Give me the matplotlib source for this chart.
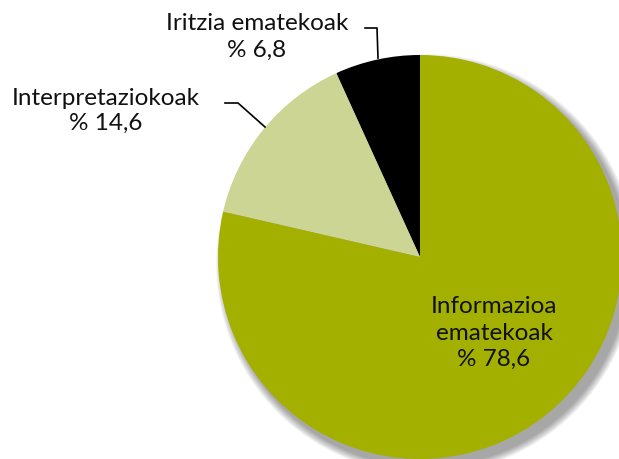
import matplotlib
matplotlib.use("Agg")
import matplotlib.pyplot as plt
from matplotlib.patches import Circle

categories = ["Iritzia ematekoak", "Interpretaziokoak", "Informazioa\nematekoak"]
values = [6.8, 14.6, 78.6]
pct_labels = ["% 6,8", "% 14,6", "% 78,6"]
colors = ["#000000", "#cdd594", "#a3b000"]

plt.rcParams['font.family'] = ['Lato', 'DejaVu Sans']

W, H = 619, 459
fig = plt.figure(figsize=(W/100, H/100), dpi=100)
cx, cy, r = 420, 257, 202
ax = fig.add_axes([(cx - r)/W, (H - cy - r)/H, 2*r/W, 2*r/H])

# soft drop shadow
for i in range(10):
    ax.add_patch(Circle((0.03, -0.035), 1.0 + 0.004*(10 - i), color='black',
                        alpha=0.04, lw=0, zorder=0, clip_on=False))

wedges, _ = ax.pie(values, colors=colors, startangle=90, counterclock=True,
                   radius=1.0, wedgeprops=dict(linewidth=0))
for w in wedges:
    w.set_clip_on(False)
    w.set_zorder(1)
ax.set_aspect('auto')
ax.set_xlim(-1, 1)
ax.set_ylim(-1, 1)
ax.axis('off')

fs = 17.5
def fp(x, y):
    return (x / W, 1 - y / H)

fig.text(*fp(494, 333), categories[2] + "\n" + pct_labels[2], ha='center', va='center',
         fontsize=fs, linespacing=1.3, color='#111111')
fig.text(*fp(257, 37), categories[0] + "\n" + pct_labels[0], ha='center', va='center',
         fontsize=fs, linespacing=1.3, color='#111111')
fig.text(*fp(106, 111), categories[1] + "\n" + pct_labels[1], ha='center', va='center',
         fontsize=fs, linespacing=1.2, color='#111111')

def line(pts):
    xs = [p[0] / W for p in pts]
    ys = [1 - p[1] / H for p in pts]
    fig.add_artist(plt.Line2D(xs, ys, color='black', lw=1.2, transform=fig.transFigure))

line([(365, 28), (377, 28), (378, 58)])
line([(225, 103), (238, 103), (265, 127)])

fig.savefig("out.png", dpi=100, facecolor='white')
